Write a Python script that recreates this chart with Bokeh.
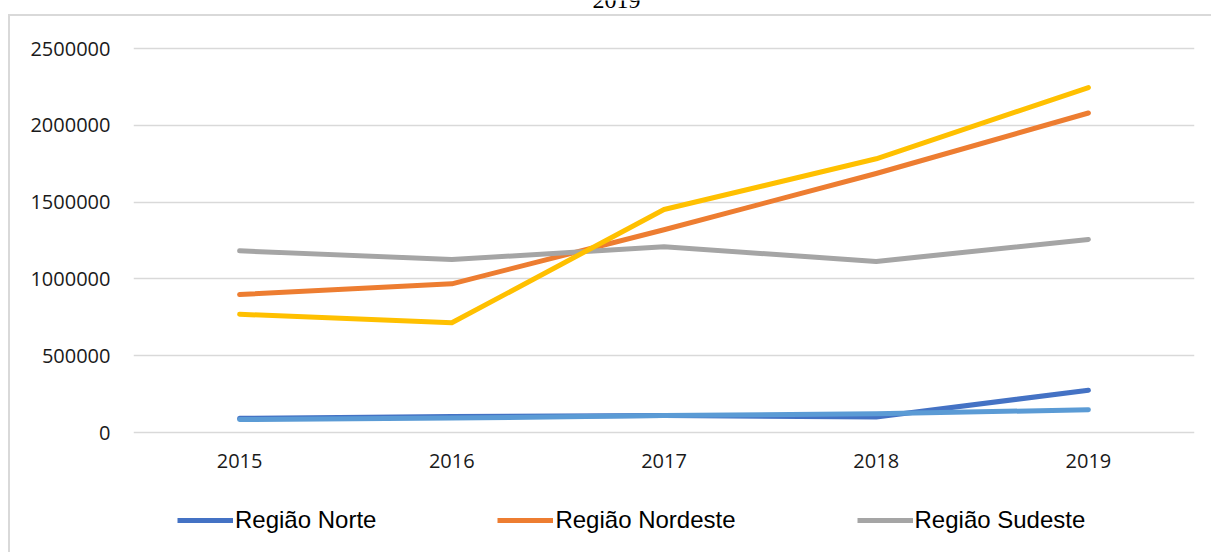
from bokeh.plotting import figure
from bokeh.layouts import column
from bokeh.models import (Range1d, FixedTicker, BasicTickFormatter, Legend,
                          LegendItem, Label)
from bokeh.embed import file_html
from bokeh.resources import INLINE

# ---- data ----
years = ["2015", "2016", "2017", "2018", "2019"]
norte = [92000, 104000, 110000, 101000, 275000]
nordeste = [898000, 968000, 1320000, 1686000, 2080000]
sudeste = [1183000, 1126000, 1209000, 1114000, 1257000]
sul = [770000, 714000, 1452000, 1782000, 2246000]
centro_oeste = [84000, 94000, 110000, 122000, 148000]

series_names = ["Região Norte", "Região Nordeste", "Região Sudeste",
                "Região Sul", "Região Centro-Oeste"]
series_values = [norte, nordeste, sudeste, sul, centro_oeste]
series_colors = ["#4472C4", "#ED7D31", "#A5A5A5", "#FFC000", "#5B9BD5"]
legend_count = 3
y_ticks = [0, 500000, 1000000, 1500000, 2000000, 2500000]
title_text = "2019"

# ---- layout constants ----
W = 1211
H_MAIN, H_LEG = 480, 72
PX = 2500000 / 384.0          # value units per pixel
Y0 = -3 * PX
Y1 = 2500000 + 48 * PX        # frame reaches the top of the canvas
GRAY = "#D9D9D9"


def border_styles(top):
    grads = "linear-gradient(%s, %s)" % (GRAY, GRAY)
    if top is None:
        return {"background-color": "white", "background-image": grads,
                "background-size": "2px 100%", "background-position": "8px 0px",
                "background-repeat": "no-repeat"}
    return {"background-color": "white",
            "background-image": grads + ", " + grads,
            "background-size": "2px 100%, 100% 2px",
            "background-position": "8px %dpx, 8px %dpx" % (top, top),
            "background-repeat": "no-repeat"}


p = figure(x_range=years, y_range=Range1d(Y0, Y1), width=W, height=H_MAIN,
           output_backend="svg", toolbar_location=None,
           min_border_left=133, min_border_right=17,
           min_border_top=0, min_border_bottom=H_MAIN - 435)
p.outline_line_color = None
p.background_fill_color = None
p.border_fill_color = None
p.styles = border_styles(14)

p.xgrid.grid_line_color = None
p.ygrid.grid_line_color = GRAY
p.ygrid.grid_line_width = 1.5

p.yaxis.ticker = FixedTicker(ticks=y_ticks)
p.yaxis.formatter = BasicTickFormatter(use_scientific=False)
for ax in (p.xaxis, p.yaxis):
    ax.axis_line_color = None
    ax.major_tick_line_color = None
    ax.minor_tick_line_color = None
    ax.major_tick_out = 0
    ax.major_tick_in = 0
    ax.major_label_text_font = "Open Sans"
    ax.major_label_text_font_size = "20px"
    ax.major_label_text_color = "#1a1a1a"
p.yaxis.major_label_standoff = 23
p.xaxis.major_label_standoff = 18

for vals, col in zip(series_values, series_colors):
    p.line(x=years, y=vals, line_width=5, line_color=col,
           line_cap="round", line_join="round")

# title remnant at the very top (cut off by the page edge, as in the reference)
title = Label(x=616, x_units="canvas", y=Y1, y_units="data",
              text=title_text, text_align="center", text_baseline="alphabetic",
              text_font="Liberation Serif", text_font_size="24px",
              text_color="#000000")
p.add_layout(title)

# ---- legend strip (own small figure, series kept outside its view) ----
q = figure(x_range=years, y_range=Range1d(-2, -1), width=W, height=H_LEG,
           output_backend="svg", toolbar_location=None,
           x_axis_location=None, y_axis_location=None,
           min_border_left=0, min_border_right=0,
           min_border_top=0, min_border_bottom=0)
q.outline_line_color = None
q.background_fill_color = None
q.border_fill_color = None
q.grid.visible = False
q.styles = border_styles(None)

leg_renderers = []
for i in range(legend_count):
    r = q.line(x=years, y=series_values[i], line_width=5,
               line_color=series_colors[i], line_cap="butt")
    leg_renderers.append(r)

legend = Legend(items=[LegendItem(label=series_names[i], renderers=[leg_renderers[i]])
                       for i in range(legend_count)],
                orientation="horizontal", location=(44, 18),
                glyph_width=56, glyph_height=20, label_standoff=2, spacing=121,
                padding=0, margin=0, background_fill_alpha=0,
                border_line_color=None,
                label_text_font="Liberation Sans", label_text_font_size="24px",
                label_text_color="#000000")
q.add_layout(legend)

layout = column(p, q, spacing=0)
open("out.html", "w").write(file_html(layout, INLINE))
